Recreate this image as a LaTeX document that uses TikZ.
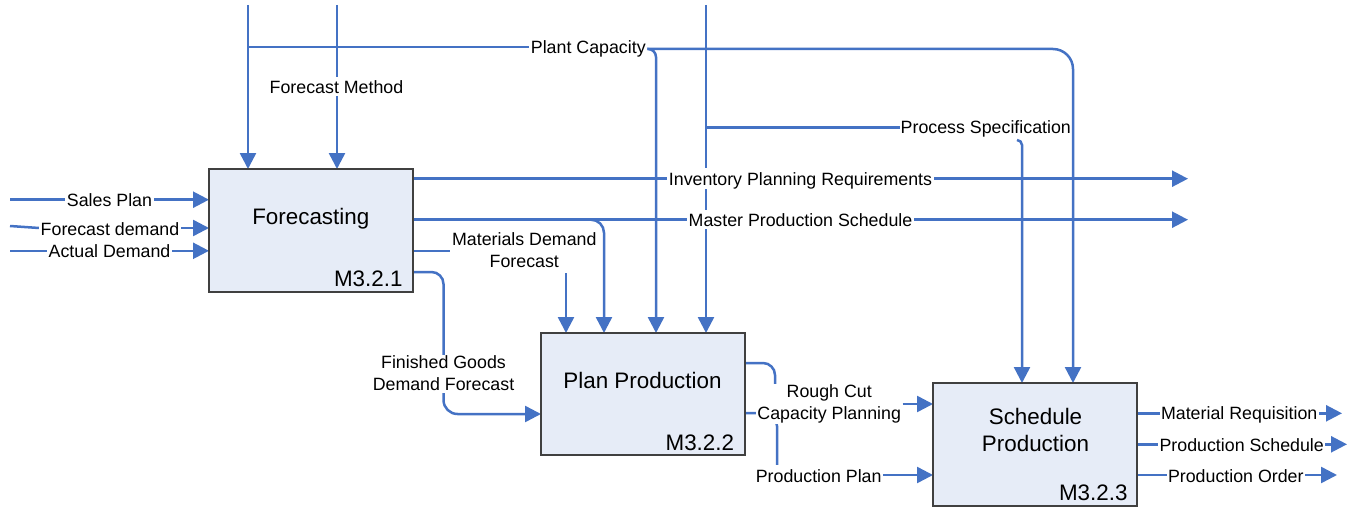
\documentclass[tikz,border=0pt]{standalone}
\usepackage{fontspec}
\setmainfont{Liberation Sans}
\usetikzlibrary{arrows.meta}
\pgfdeclarelayer{fg}
\pgfsetlayers{main,fg}
\definecolor{flow}{HTML}{4472C4}
\definecolor{boxfill}{HTML}{E6ECF7}
\definecolor{boxline}{HTML}{404040}
\newcommand\mystrut{\rule[-0.12em]{0pt}{1.04em}}
\begin{document}
\begin{tikzpicture}[x=1pt,y=-1pt,
  flowline/.style={draw=flow, line width=2.5pt},
  conn/.style={flowline, -{Triangle[length=16pt,width=16pt]}},
  lbl/.style={fill=white, font=\fontsize{17.8}{22}\selectfont, inner xsep=1.5pt, inner ysep=0.3pt, align=center, execute at begin node=\mystrut},
  procbox/.style={draw=boxline, fill=boxfill, line width=1.5pt, minimum width=204pt, minimum height=123pt, inner sep=0pt, outer sep=0pt},
  ttl/.style={font=\fontsize{22.4}{26.7}\selectfont, inner sep=0pt, align=center, execute at begin node=\mystrut},
  ident/.style={font=\fontsize{22.4}{27}\selectfont, inner sep=0pt, anchor=east, execute at begin node=\mystrut}
]
\useasboundingbox (0,0) rectangle (1351,508);

\begin{pgfonlayer}{fg}
  % process boxes
  \node[procbox] (fc) at (311,230.5) {};
  \node[procbox, minimum height=122pt] (pp) at (643,394) {};
  \node[procbox] (sp) at (1035,444.5) {};
  \node[ttl] (fct) at (310.8,216.2) {Forecasting};
  \node[ttl] (ppt) at (642.5,379.2) {Plan Production};
  \node[ttl] (spt) at (1035.5,430.9) {Schedule\\Production\mystrut};
  \node[ident] (fci) at (402.7,277.2) {M3.2.1};
  \node[ident] (ppi) at (734.3,441.2) {M3.2.2};
  \node[ident] (spi) at (1127.7,492) {M3.2.3};
  % labels
  \node[lbl] (lsp) at (109.5,199.7) {Sales Plan};
  \node[lbl] (lfd) at (110,228) {Forecast demand};
  \node[lbl] (lad) at (109.5,250.8) {Actual Demand};
  \node[lbl] (lfm) at (336.5,86.7) {Forecast Method};
  \node[lbl] (lpc) at (588.3,47) {Plant Capacity};
  \node[lbl, inner xsep=0.3pt] (lps) at (985.8,127.5) {Process Specification};
  \node[lbl] (lipr) at (800.5,178.7) {Inventory Planning Requirements};
  \node[lbl] (lmps) at (800.5,219.7) {Master Production Schedule};
  \node[lbl] (lmdf) at (524.3,251.2) {Materials Demand\\Forecast\mystrut};
  \node[lbl] (lfgdf) at (443.5,374) {Finished Goods\\Demand Forecast\mystrut};
  \node[lbl] (lrc) at (829.2,404) {Rough Cut\\Capacity Planning\mystrut};
  \node[lbl] (lpp) at (818.7,475) {Production Plan};
  \node[lbl] (lmr) at (1239.2,413.3) {Material Requisition};
  \node[lbl] (lpsch) at (1241.7,444.3) {Production Schedule};
  \node[lbl] (lpo) at (1235.8,475) {Production Order};
\end{pgfonlayer}

% free ends and bend points
\coordinate (in1) at (10,199.7);
\coordinate (in2) at (10,226);
\coordinate (in3) at (10,250.8);
\coordinate (t1) at (248,5);
\coordinate (t2) at (337,5);
\coordinate (t3) at (706,5);
\coordinate (pcl) at (248,47);
\coordinate (pcr) at (1073,49);
\coordinate (pcb) at (656,49);
\coordinate (psl) at (706,127.5);
\coordinate (pss) at (1017,140);
\coordinate (psb) at (1022,140);
\coordinate (oipr) at (1188,178.7);
\coordinate (omps) at (1188,219.7);
\coordinate (mpsb) at (604,219.7);
\coordinate (mdfa) at (566,273);
\coordinate (fgt) at (443.5,272);
\coordinate (fgb) at (443.5,414);
\coordinate (rcx) at (775,363);
\coordinate (ppx) at (777,413);
\coordinate (omr) at (1342,413.3);
\coordinate (ops) at (1347,444.3);
\coordinate (opo) at (1337,475);

% inputs to Forecasting
\draw[conn] (in1) -- (in1 -| fc.west);
\draw[flowline] (in2) -- (lfd.west);
\draw[conn] (lfd.east) -- (lfd.east -| fc.west);
\draw[conn] (in3) -- (in3 -| fc.west);
% controls from top
\draw[conn] (t1) -- (t1 |- fc.north);
\draw[conn] (t2) -- (t2 |- fc.north);
\draw[flowline] (pcl) -- (lpc.west);
\draw[conn, rounded corners=20] (lpc.east |- pcr) -- (pcr) -- (pcr |- sp.north);
\draw[conn, rounded corners=8] (lpc.east |- pcr) -- (pcb) -- (pcb |- pp.north);
\draw[conn] (t3) -- (t3 |- pp.north);
\draw[flowline] (psl) -- (lps.west);
\draw[conn, rounded corners=5] (pss) -- (psb) -- (psb |- sp.north);
% outputs of Forecasting
\draw[conn] (oipr -| fc.east) -- (oipr);
\draw[conn] (omps -| fc.east) -- (omps);
\draw[conn, rounded corners=13] (omps -| fc.east) -- (mpsb) -- (mpsb |- pp.north);
\draw[flowline] (lmdf.west -| fc.east) -- (lmdf.west);
\draw[conn] (mdfa) -- (mdfa |- pp.north);
\draw[flowline, rounded corners=12] (fgt -| fc.east) -- (fgt) -- (lfgdf.north);
\draw[conn, rounded corners=14] (lfgdf.south) -- (fgb) -- (fgb -| pp.west);
% outputs of Plan Production
\draw[flowline, rounded corners=12] (rcx -| pp.east) -- (rcx) -- (rcx |- lrc.north);
\draw[conn] (lrc.east) -- (lrc.east -| sp.west);
\draw[flowline, rounded corners=13] (ppx -| pp.east) -- (ppx) -- (ppx |- lpp.north);
\draw[conn] (lpp.east) -- (lpp.east -| sp.west);
% outputs of Schedule Production
\draw[conn] (omr -| sp.east) -- (omr);
\draw[conn] (ops -| sp.east) -- (ops);
\draw[conn] (opo -| sp.east) -- (opo);
\end{tikzpicture}
\end{document}
